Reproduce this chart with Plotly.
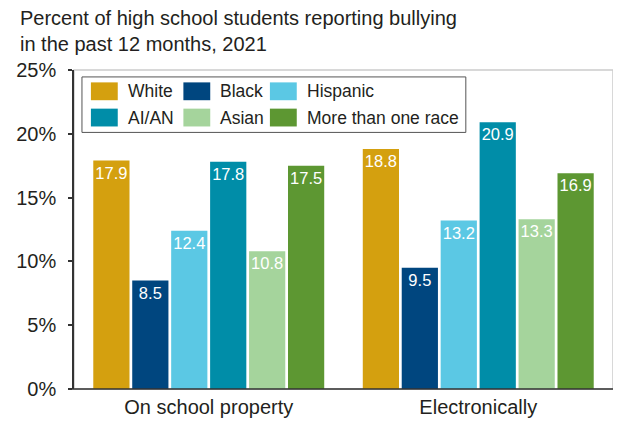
import plotly.graph_objects as go

categories = ["On school property", "Electronically"]
groups = ["White", "Black", "Hispanic", "AI/AN", "Asian", "More than one race"]
values = {
    "White": [17.9, 18.8],
    "Black": [8.5, 9.5],
    "Hispanic": [12.4, 13.2],
    "AI/AN": [17.8, 20.9],
    "Asian": [10.8, 13.3],
    "More than one race": [17.5, 16.9],
}
colors = {
    "White": "#D4A00F",
    "Black": "#00467F",
    "Hispanic": "#5BC8E4",
    "AI/AN": "#008DA8",
    "Asian": "#A5D49C",
    "More than one race": "#5D9732",
}
y_ticks = [0, 5, 10, 15, 20, 25]
y_ticklabels = ["0%", "5%", "10%", "15%", "20%", "25%"]
title_lines = ["Percent of high school students reporting bullying", "in the past 12 months, 2021"]

OFF = 8  # browser default body margin
W, H = 621 - OFF, 426 - OFF
# plot area in reference-page pixels
L, R, T, B = 71, 613, 70, 392
FONT = "Liberation Sans, Arial, sans-serif"
TXT = "#231F20"


def px(x):
    return (x - L) / (R - L)


def py(y):
    return (B - y) / (B - T)


fig = go.Figure()
for g in groups:
    fig.add_trace(go.Bar(
        name=g, x=categories, y=values[g],
        marker=dict(color=colors[g], line=dict(width=0)),
        text=[f"{v:.1f}" for v in values[g]],
        textposition="inside", insidetextanchor="end", constraintext="none",
        textfont=dict(color="white", size=16.5, family=FONT),
        textangle=0, showlegend=False, cliponaxis=False,
    ))

shapes = [
    dict(type="rect", xref="paper", yref="paper", x0=0, x1=1, y0=0, y1=1,
         line=dict(color="#CCCCCC", width=1.5), layer="below"),
    dict(type="line", xref="paper", yref="paper", x0=px(68), x1=1, y0=0, y1=0,
         line=dict(color="#333333", width=1.5)),
]
annotations = []
# manual legend
shapes.append(dict(type="rect", xref="paper", yref="paper",
                   x0=px(79), x1=px(465), y0=py(133), y1=py(77),
                   line=dict(color="#555555", width=1), fillcolor="white"))
col_x = [88, 181, 268]
row_y = [91.5, 118]
for i, g in enumerate(groups):
    r, c = divmod(i, 3)
    x0 = col_x[c]
    yc = row_y[r]
    shapes.append(dict(type="rect", xref="paper", yref="paper",
                       x0=px(x0), x1=px(x0 + 27), y0=py(yc + 9), y1=py(yc - 9),
                       line=dict(width=0), fillcolor=colors[g]))
    annotations.append(dict(xref="paper", yref="paper", x=px(x0 + 35), y=py(yc),
                            text=g, showarrow=False, xanchor="left", yanchor="middle",
                            font=dict(size=17.5, color=TXT, family=FONT)))
for k, line in enumerate(title_lines):
    annotations.append(dict(xref="paper", yref="paper", x=px(15), y=py(18 + 25.5 * k),
                            text=line, showarrow=False, xanchor="left", yanchor="middle",
                            font=dict(size=20, color=TXT, family=FONT)))

fig.update_layout(
    width=W, height=H,
    margin=dict(l=L - OFF, r=621 - R, t=T - OFF, b=426 - B, pad=0),
    paper_bgcolor="white", plot_bgcolor="white",
    barmode="group", bargap=0.133, bargroupgap=0.07,
    font=dict(family=FONT, color=TXT, size=20),
    shapes=shapes, annotations=annotations,
    xaxis=dict(showline=False, ticks="", showgrid=False, tickfont=dict(size=20),
               ticklabelstandoff=4, fixedrange=True),
    yaxis=dict(range=[0, 25], tickvals=y_ticks, ticktext=y_ticklabels,
               showline=True, linecolor="#333333", linewidth=1.5,
               ticks="outside", ticklen=4, tickcolor="#333333", tickwidth=1.5,
               showgrid=False, zeroline=False, tickfont=dict(size=20),
               ticklabelstandoff=8),
    uniformtext=dict(mode=False),
)
fig.write_html("out.html")
